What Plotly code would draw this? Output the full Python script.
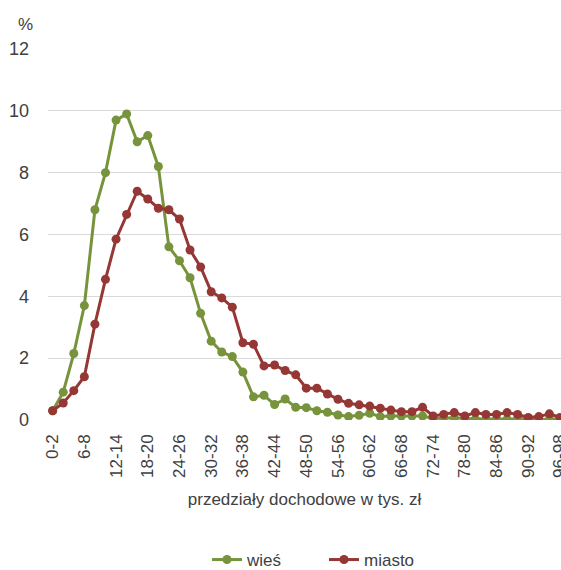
import plotly.graph_objects as go

categories = [f"{a}-{a+2}" for a in range(0, 98, 2)]

wies = [0.3, 0.9, 2.15, 3.7, 6.8, 8.0, 9.7, 9.9, 9.0, 9.2,
        8.2, 5.6, 5.15, 4.6, 3.45, 2.55, 2.2, 2.05, 1.55, 0.75,
        0.8, 0.5, 0.68, 0.41, 0.40, 0.30, 0.25, 0.16, 0.11, 0.15,
        0.22, 0.11, 0.13, 0.13, 0.13, 0.13, 0.05, 0.07, 0.07, 0.05,
        0.03, 0.03, 0.03, 0.03, 0.05, 0.03, 0.01, 0.03, 0.03]

miasto = [0.3, 0.55, 0.95, 1.4, 3.1, 4.55, 5.85, 6.65, 7.4, 7.15,
          6.85, 6.8, 6.5, 5.5, 4.95, 4.15, 3.95, 3.65, 2.5, 2.45,
          1.75, 1.78, 1.6, 1.46, 1.03, 1.03, 0.84, 0.67, 0.54, 0.49,
          0.45, 0.38, 0.32, 0.27, 0.27, 0.41, 0.13, 0.18, 0.24, 0.13,
          0.24, 0.18, 0.18, 0.24, 0.18, 0.08, 0.11, 0.20, 0.08]

tick_labels = categories[::3]
y_ticks = [0, 2, 4, 6, 8, 10, 12]

font_family = "Liberation Sans Narrow, Arial Narrow, Liberation Sans, Arial, sans-serif"
txt = "#404040"

fig = go.Figure()
fig.add_trace(go.Scatter(x=categories, y=wies, name="wieś", mode="lines+markers",
                         line=dict(color="#77933C", width=3),
                         marker=dict(color="#77933C", size=9)))
fig.add_trace(go.Scatter(x=categories, y=miasto, name="miasto", mode="lines+markers",
                         line=dict(color="#953735", width=3),
                         marker=dict(color="#953735", size=9)))

fig.update_layout(
    width=561, height=570,
    margin=dict(l=48, r=0, t=49, b=150),
    paper_bgcolor="white", plot_bgcolor="white",
    font=dict(family=font_family, size=16, color=txt),
    showlegend=True,
    legend=dict(orientation="h", xref="container", x=(207 / 561), xanchor="left",
                yref="container", y=(1 - 560 / 570), yanchor="middle",
                font=dict(size=17, color=txt), entrywidth=72, entrywidthmode="pixels"),
    xaxis=dict(type="category", range=[-0.44, 48.1], tickmode="array",
               tickvals=tick_labels, ticktext=tick_labels, tickangle=-90,
               showgrid=False, zeroline=False, showline=False, ticks="",
               automargin=False, ticklabelstandoff=10, ticklabeloverflow="allow",
               tickfont=dict(size=17, color=txt),
               title=dict(text="przedziały dochodowe w tys. zł", standoff=16,
                          font=dict(size=17, color=txt))),
    yaxis=dict(range=[0, 12], tickmode="array", tickvals=y_ticks,
               showgrid=True, gridcolor="#d9d9d9", gridwidth=1,
               zeroline=False, showline=False, ticks="",
               automargin=False, ticklabelstandoff=18,
               tickfont=dict(size=18, color=txt)),
    annotations=[dict(text="%", xref="paper", yref="paper", x=-0.0448, y=1.065,
                      xanchor="center", yanchor="middle", showarrow=False,
                      font=dict(size=17, color=txt))],
)

fig.write_html(
    "out.html",
    config={"displayModeBar": False},
    post_script=(
        "document.documentElement.style.margin='0';"
        "document.documentElement.style.padding='0';"
        "document.documentElement.style.overflow='hidden';"
        "document.body.style.margin='0';"
        "document.body.style.padding='0';"
        "document.body.style.overflow='hidden';"
        "document.body.style.fontSize='0';"
        "document.body.style.lineHeight='0';"
    ),
)
